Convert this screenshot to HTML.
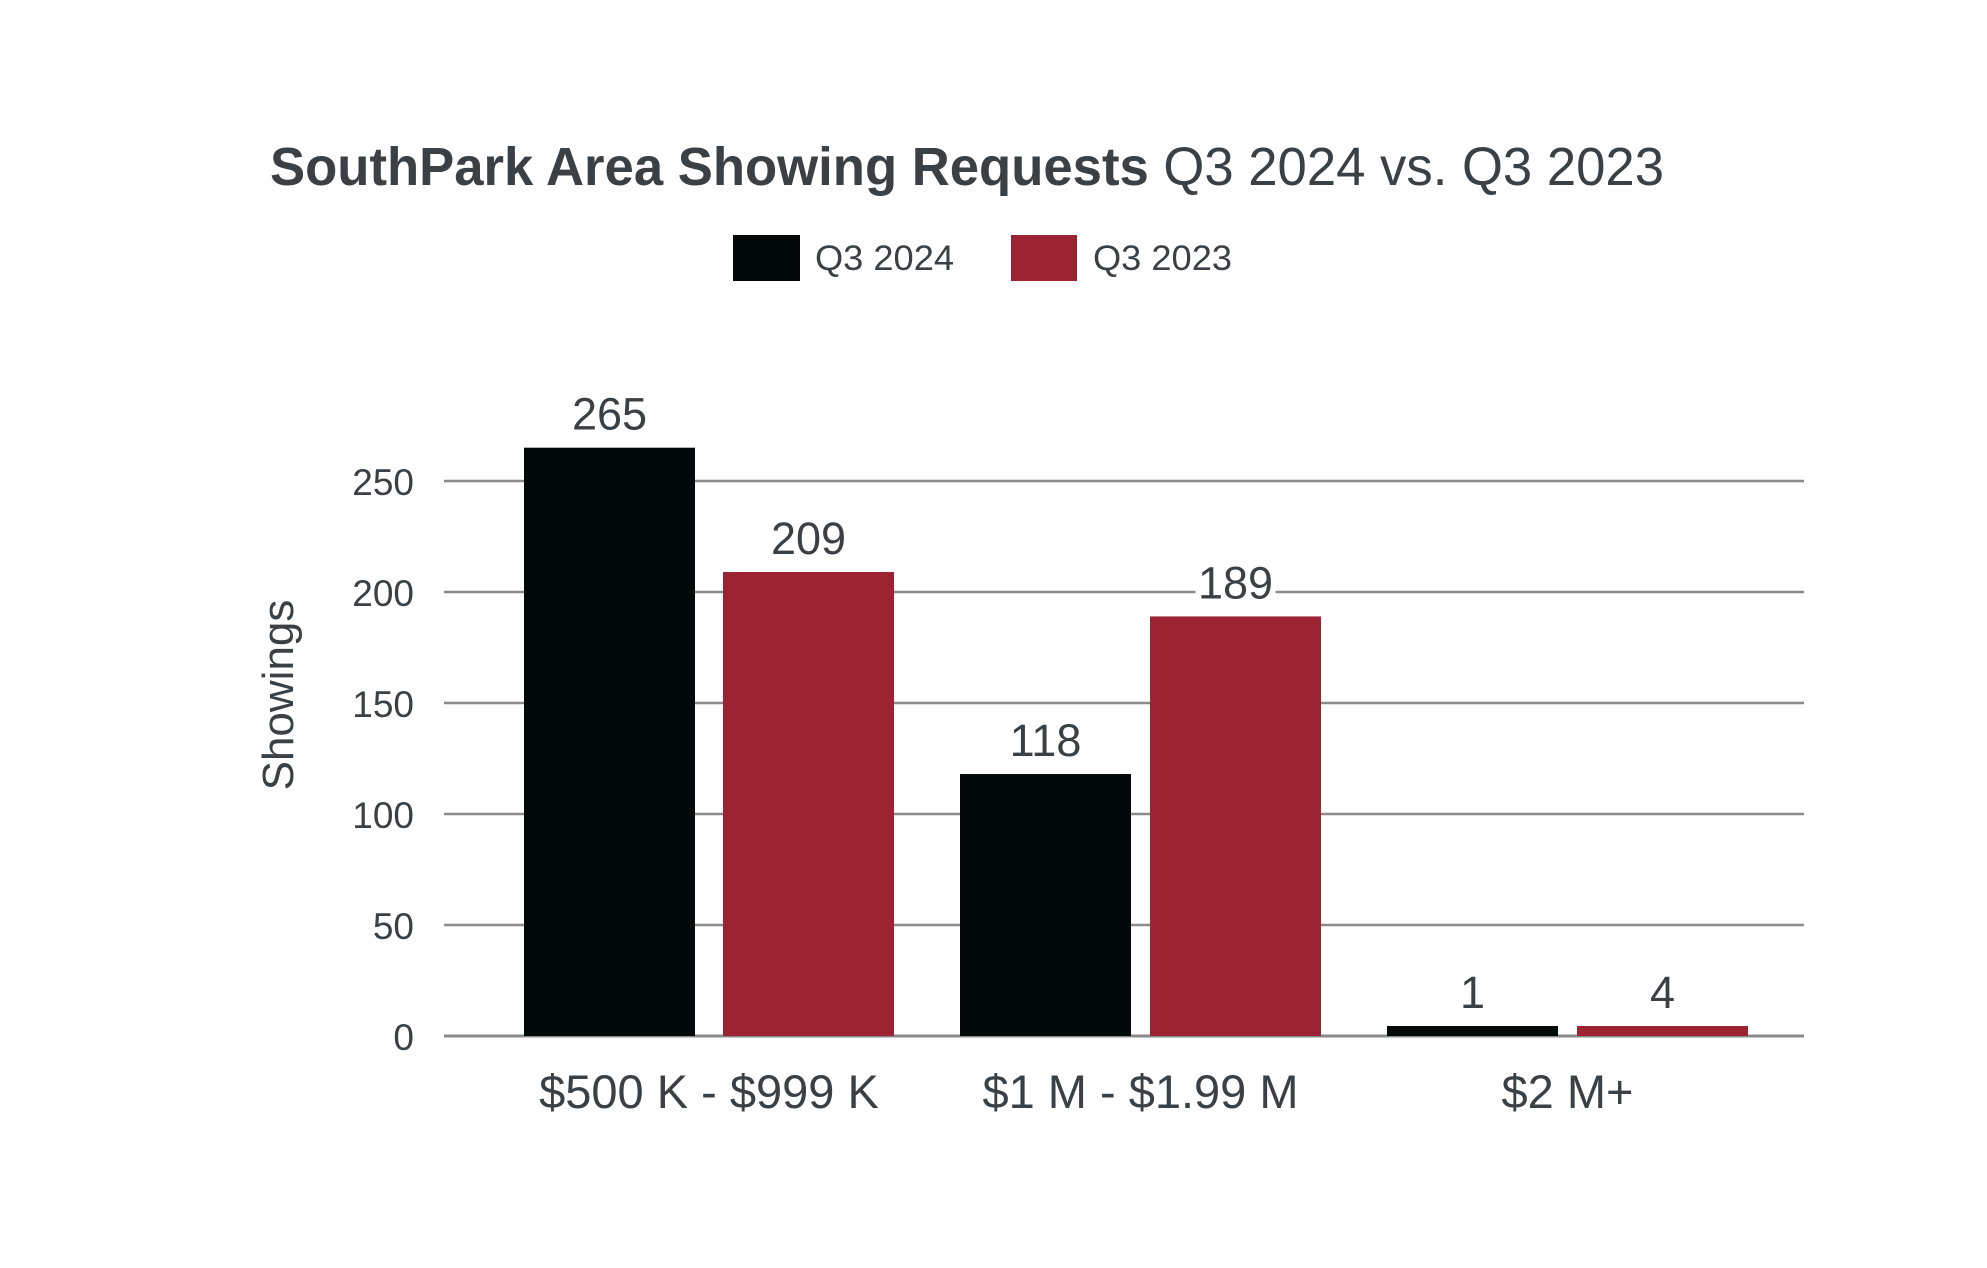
<!DOCTYPE html>
<html><head><meta charset="utf-8"><style>
html,body{margin:0;padding:0;background:#fff;}
svg{display:block;}
text{font-family:"Liberation Sans",sans-serif;fill:#3b4045;}
</style></head><body>
<svg id="chart" width="1987" height="1268" viewBox="0 0 1987 1268">
<text x="270" y="185" font-size="54" textLength="1394" lengthAdjust="spacingAndGlyphs"><tspan font-weight="bold">SouthPark Area Showing Requests</tspan> Q3 2024 vs. Q3 2023</text>
<g>
<rect x="733" y="235" width="67" height="46" fill="#030808"/>
<text x="815" y="270" font-size="35" textLength="139" lengthAdjust="spacingAndGlyphs">Q3 2024</text>
<rect x="1011" y="235" width="66" height="46" fill="#9b2332"/>
<text x="1093" y="270" font-size="35" textLength="139" lengthAdjust="spacingAndGlyphs">Q3 2023</text>
</g>
<text transform="translate(293,695) rotate(-90)" text-anchor="middle" font-size="44">Showings</text>
<g id="grid"></g><g id="bars"></g><g id="labels"></g>
</svg>
<script>
const categories = ["$500 K - $999 K", "$1 M - $1.99 M", "$2 M+"];
const q3_2024 = [265, 118, 1];
const q3_2023 = [209, 189, 4];
const yTicks = [0, 50, 100, 150, 200, 250];

const NS = "http://www.w3.org/2000/svg";
const x0 = 444, x1 = 1804, yZero = 1036, yTop = 481, yTopVal = 250;
const y = v => yZero - (v / yTopVal) * (yZero - yTop);
const slotX = [[524, 723], [960, 1150], [1387, 1577]];
const barW = 171;
function mk(tag, attrs, parent){const e=document.createElementNS(NS,tag);for(const k in attrs)e.setAttribute(k,attrs[k]);parent.appendChild(e);return e;}
const grid=document.getElementById('grid'), bars=document.getElementById('bars'), labels=document.getElementById('labels');
yTicks.forEach(t=>{
  const l=mk('line',{x1:x0,x2:x1,y1:y(t),y2:y(t),stroke:'#8a8a8a','stroke-width':t===0?3:2.5},grid);
  
  
  const tx=mk('text',{x:414,y:y(t)+14,'text-anchor':'end','font-size':37},grid);
  tx.textContent=t;
  
  
});
categories.forEach((c,i)=>{
  const series=[[q3_2024[i],'#030808','q3-2024'],[q3_2023[i],'#9b2332','q3-2023']];
  series.forEach(([v,col,nm],j)=>{
    const bx=slotX[i][j];
    const top=Math.min(y(v), yZero-10);
    const r=mk('rect',{x:bx,y:top,width:barW,height:yZero-top,fill:col},bars);
    
    
    const bg=mk('rect',{x:bx+barW/2-40,y:top-62,width:80,height:52,fill:'#fff'},labels);
    
    
    const t=mk('text',{x:bx+barW/2,y:top-18,'text-anchor':'middle','font-size':45},labels);
    t.textContent=v;
    
    
  });
  const cx=(slotX[i][0]+slotX[i][1]+barW)/2;
  const ct=mk('text',{x:cx,y:1108,'text-anchor':'middle','font-size':47},labels);
  ct.textContent=c;
  
  
});
</script>
</body></html>
